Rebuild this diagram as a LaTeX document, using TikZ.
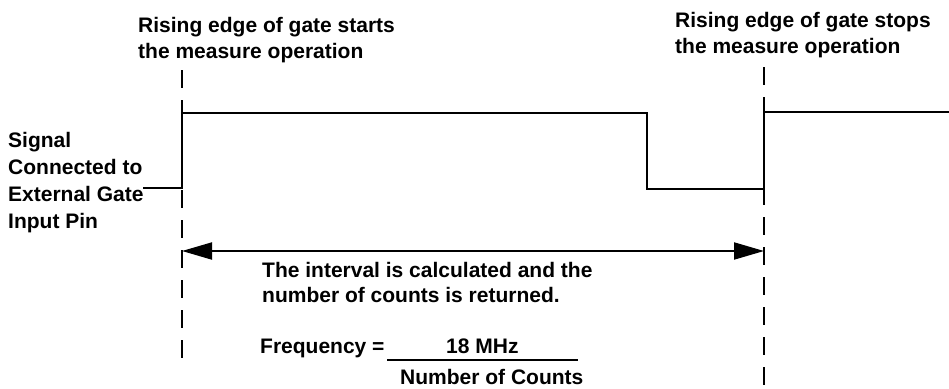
\documentclass[tikz,border=0pt]{standalone}
\usepackage{fontspec}
\setmainfont{Liberation Sans}
\usetikzlibrary{arrows.meta}
\begin{document}
\begin{tikzpicture}[x=1pt,y=-1pt,
  lbl/.style={font=\fontsize{21}{26}\selectfont\bfseries, inner sep=0pt, anchor=base west, align=left},
  sig/.style={line width=2.2pt, line join=miter},
  guide/.style={line width=2pt, dash pattern=on 18pt off 12pt},
  span/.style={line width=2pt, {Triangle[length=30pt,width=17pt]}-{Triangle[length=30pt,width=17pt]}}]
\useasboundingbox (0,0) rectangle (949,388);
% guide lines
\coordinate (g1t) at (182,70);
\coordinate (g1b) at (182,362);
\coordinate (g2t) at (764,67);
\coordinate (g2b) at (764,386);
\draw[guide] (g1t) -- (g1b);
\draw[guide] (g2t) -- (g2b);
% signal
\coordinate (s0) at (143,188);
\coordinate (s1) at (182,188);
\coordinate (s2) at (182,113);
\coordinate (s3) at (647,113);
\coordinate (s4) at (647,189);
\coordinate (s5) at (764,189);
\coordinate (s6) at (764,112);
\coordinate (s7) at (949,112);
\draw[sig] (s0) -- (s1) -- (s2) -- (s3) -- (s4) -- (s5) -- (s6) -- (s7);
% interval arrow
\coordinate (a1) at (182,251);
\coordinate (a2) at (764,251);
\draw[span] (a1) -- (a2);
% texts
\node[lbl] (h1) at (138,58) {Rising edge of gate starts\\the measure operation};
\node[lbl] (h2) at (675,53) {Rising edge of gate stops\\the measure operation};
\node[lbl, font=\fontsize{21}{26.7}\selectfont\bfseries] (sl) at (8,228) {Signal\\Connected to\\External Gate\\Input Pin};
\node[lbl, font=\fontsize{21}{25}\selectfont\bfseries] (iv) at (262,302) {The interval is calculated and the\\number of counts is returned.};
\node[lbl] (fq) at (260,353) {Frequency =};
\node[lbl] (num) at (446,353) {18 MHz};
\node[lbl] (den) at (400,384) {Number of Counts};
\coordinate (u1) at (387,360);
\coordinate (u2) at (578,360);
\draw[line width=1.6pt] (u1) -- (u2);
\end{tikzpicture}
\end{document}
